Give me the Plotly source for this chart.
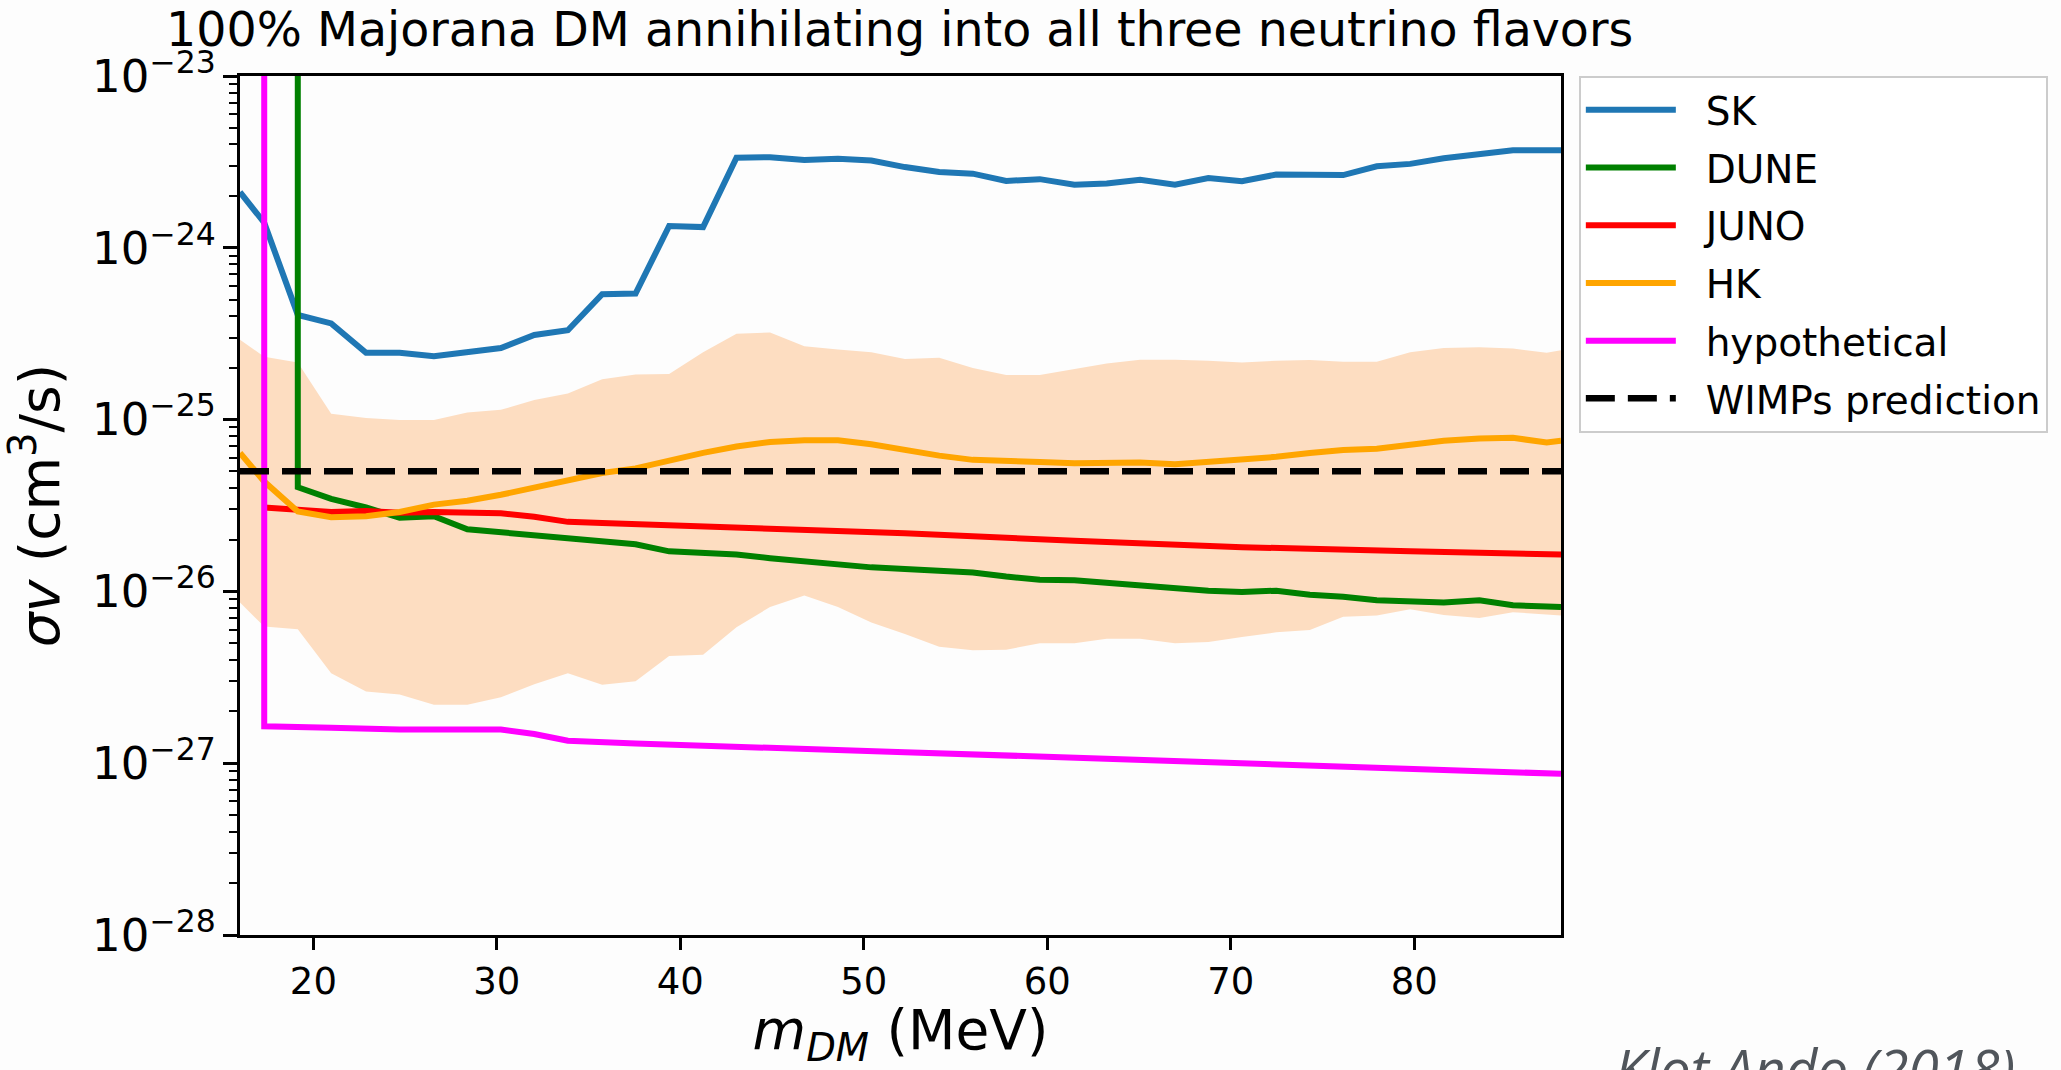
import plotly.graph_objects as go

# ---------------- data ----------------
mass = [16.0, 17.32, 19.15, 20.97, 22.87, 24.70, 26.57, 28.39, 30.22, 32.04,
        33.87, 35.74, 37.56, 39.39, 41.24, 43.06, 44.89, 46.76, 48.59, 50.41,
        52.24, 54.11, 55.94, 57.76, 59.59, 61.48, 63.24, 65.06, 66.96, 68.78,
        70.61, 72.48, 74.31, 76.13, 77.96, 79.78, 81.61, 83.55, 85.38, 87.22, 88.0]

sk = [2.11e-24, 1.40e-24, 4.07e-25, 3.63e-25, 2.45e-25, 2.45e-25, 2.34e-25, 2.45e-25, 2.61e-25, 3.11e-25,
      3.31e-25, 5.37e-25, 5.42e-25, 1.34e-24, 1.32e-24, 3.34e-24, 3.37e-24, 3.24e-24, 3.30e-24, 3.22e-24,
      2.95e-24, 2.76e-24, 2.70e-24, 2.45e-24, 2.51e-24, 2.33e-24, 2.37e-24, 2.49e-24, 2.33e-24, 2.55e-24,
      2.44e-24, 2.67e-24, 2.65e-24, 2.65e-24, 2.98e-24, 3.08e-24, 3.32e-24, 3.51e-24, 3.70e-24, 3.70e-24, 3.70e-24]

dune_mass = [19.15, 19.15, 20.97, 22.87, 24.70, 26.57, 28.39, 30.22, 32.04,
             33.87, 35.74, 37.56, 39.39, 41.24, 43.06, 44.89, 46.76, 48.59, 50.41,
             52.24, 54.11, 55.94, 57.76, 59.59, 61.48, 63.24, 65.06, 66.96, 68.78,
             70.61, 72.48, 74.31, 76.13, 77.96, 79.78, 81.61, 83.55, 85.38, 87.22, 88.0]
dune = [1e-20, 4.04e-26, 3.46e-26, 3.08e-26, 2.68e-26, 2.74e-26, 2.30e-26, 2.21e-26, 2.13e-26,
        2.05e-26, 1.94e-26, 1.88e-26, 1.71e-26, 1.66e-26, 1.64e-26, 1.56e-26, 1.49e-26, 1.45e-26, 1.38e-26,
        1.35e-26, 1.33e-26, 1.29e-26, 1.22e-26, 1.17e-26, 1.16e-26, 1.12e-26, 1.09e-26, 1.05e-26, 1.01e-26,
        9.91e-27, 1.01e-26, 9.55e-27, 9.31e-27, 8.89e-27, 8.71e-27, 8.63e-27, 8.89e-27, 8.30e-27, 8.17e-27, 8.11e-27]

juno_mass = [17.32, 19.15, 20.97, 22.87, 24.70, 26.57, 28.39, 30.22, 32.04, 33.87,
             35.74, 41.24, 52.24, 61.48, 70.61, 79.78, 88.0]
juno = [3.08e-26, 3.01e-26, 2.90e-26, 2.94e-26, 2.87e-26, 2.90e-26, 2.87e-26, 2.85e-26, 2.72e-26, 2.54e-26,
        2.50e-26, 2.39e-26, 2.18e-26, 1.97e-26, 1.81e-26, 1.71e-26, 1.64e-26]

hk = [6.40e-26, 4.36e-26, 2.92e-26, 2.70e-26, 2.74e-26, 2.90e-26, 3.20e-26, 3.37e-26, 3.65e-26, 4.04e-26,
      4.43e-26, 4.89e-26, 5.20e-26, 5.79e-26, 6.40e-26, 6.97e-26, 7.41e-26, 7.59e-26, 7.59e-26, 7.19e-26,
      6.65e-26, 6.17e-26, 5.83e-26, 5.79e-26, 5.66e-26, 5.57e-26, 5.57e-26, 5.62e-26, 5.50e-26, 5.70e-26,
      5.83e-26, 6.07e-26, 6.40e-26, 6.65e-26, 6.76e-26, 7.19e-26, 7.53e-26, 7.76e-26, 7.83e-26, 7.36e-26, 7.53e-26]

hk_upper = [2.92e-25, 2.32e-25, 2.15e-25, 1.08e-25, 1.02e-25, 9.93e-26, 9.93e-26, 1.10e-25, 1.14e-25, 1.30e-25,
            1.42e-25, 1.72e-25, 1.83e-25, 1.84e-25, 2.47e-25, 3.16e-25, 3.21e-25, 2.67e-25, 2.56e-25, 2.47e-25,
            2.25e-25, 2.29e-25, 2.00e-25, 1.82e-25, 1.82e-25, 1.96e-25, 2.12e-25, 2.23e-25, 2.23e-25, 2.20e-25,
            2.15e-25, 2.20e-25, 2.22e-25, 2.17e-25, 2.17e-25, 2.47e-25, 2.61e-25, 2.64e-25, 2.59e-25, 2.45e-25, 2.53e-25]

hk_lower = [8.63e-27, 6.24e-27, 6.03e-27, 3.34e-27, 2.61e-27, 2.51e-27, 2.19e-27, 2.19e-27, 2.42e-27, 2.88e-27,
            3.34e-27, 2.86e-27, 3.00e-27, 4.21e-27, 4.28e-27, 6.19e-27, 8.11e-27, 9.46e-27, 8.11e-27, 6.59e-27,
            5.65e-27, 4.76e-27, 4.55e-27, 4.58e-27, 4.99e-27, 4.99e-27, 5.31e-27, 5.31e-27, 4.99e-27, 5.07e-27,
            5.43e-27, 5.78e-27, 5.96e-27, 7.11e-27, 7.23e-27, 7.87e-27, 7.28e-27, 7.00e-27, 7.57e-27, 7.33e-27, 7.23e-27]

hyp_mass = [17.32, 17.32, 20.97, 24.70, 30.22, 32.04, 33.87, 37.56, 52.24, 70.61, 88.0]
hyp = [1e-20, 1.64e-27, 1.61e-27, 1.57e-27, 1.57e-27, 1.48e-27, 1.35e-27, 1.30e-27, 1.16e-27, 9.95e-28, 8.67e-28]

wimp_mass = [16.0, 88.0]
wimp = [5.0e-26, 5.0e-26]

x_ticks = [20, 30, 40, 50, 60, 70, 80]
legend_names = ["SK", "DUNE", "JUNO", "HK", "hypothetical", "WIMPs prediction"]

# ---------------- figure ----------------
FONT = "DejaVu Sans"
LW = 6
PAD = "\u00a0\u00a0"

fig = go.Figure()

# HK uncertainty band
fig.add_trace(go.Scatter(x=mass, y=hk_lower, mode="lines", line=dict(width=0),
                         showlegend=False, hoverinfo="skip"))
fig.add_trace(go.Scatter(x=mass, y=hk_upper, mode="lines", line=dict(width=0),
                         fill="tonexty", fillcolor="rgba(255,127,14,0.25)",
                         showlegend=False, hoverinfo="skip"))

fig.add_trace(go.Scatter(x=mass, y=sk, mode="lines", name=PAD + legend_names[0], legendgroup="a",
                         line=dict(color="#1f77b4", width=LW)))
fig.add_trace(go.Scatter(x=dune_mass, y=dune, mode="lines", name=PAD + legend_names[1], legendgroup="b",
                         line=dict(color="#008000", width=LW)))
fig.add_trace(go.Scatter(x=juno_mass, y=juno, mode="lines", name=PAD + legend_names[2], legendgroup="c",
                         line=dict(color="#ff0000", width=LW)))
fig.add_trace(go.Scatter(x=mass, y=hk, mode="lines", name=PAD + legend_names[3], legendgroup="d",
                         line=dict(color="#ffa500", width=LW)))
fig.add_trace(go.Scatter(x=hyp_mass, y=hyp, mode="lines", name=PAD + legend_names[4], legendgroup="e",
                         line=dict(color="#ff00ff", width=LW)))
fig.add_trace(go.Scatter(x=wimp_mass, y=wimp, mode="lines", name=PAD + legend_names[5], legendgroup="f",
                         line=dict(color="black", width=6.5, dash="29px,13px")))

fig.update_layout(
    width=2061, height=1070,
    margin=dict(l=240, r=500, t=76, b=135),
    paper_bgcolor="#fdfdfd", plot_bgcolor="#fdfdfd",
    font=dict(family=FONT, color="black"),
    title=dict(text="100% Majorana DM annihilating into all three neutrino flavors",
               font=dict(family=FONT, size=47.5, color="black"),
               x=0.4365, xanchor="center", y=0.973, yanchor="middle", yref="container"),
    legend=dict(x=1.0135, y=1.0, xanchor="left", yanchor="top",
                font=dict(family=FONT, size=39, color="black"),
                bgcolor="white", bordercolor="#cccccc", borderwidth=2,
                itemwidth=90, tracegroupgap=4),
    showlegend=True,
)

fig.update_xaxes(
    range=[16, 88], tickvals=x_ticks, ticktext=[str(v) for v in x_ticks],
    showline=True, linecolor="black", linewidth=3, mirror=True,
    ticks="outside", ticklen=12, tickwidth=2.5, tickcolor="black",
    tickfont=dict(family=FONT, size=37, color="black"),
    showgrid=False, zeroline=False,
    title=dict(text="<i>m</i><sub><i>DM</i></sub> (MeV)",
               font=dict(family=FONT, size=55, color="black"), standoff=15),
)

fig.update_yaxes(
    type="log", range=[-28, -23], dtick=1, exponentformat="power", showexponent="all",
    showline=True, linecolor="black", linewidth=3, mirror=True,
    ticks="outside", ticklen=14, tickwidth=2.5, tickcolor="black",
    minor=dict(ticks="outside", ticklen=8, tickwidth=2, tickcolor="black", showgrid=False),
    tickfont=dict(family=FONT, size=36, color="black"),
    showgrid=False, zeroline=False,
    title=dict(text="<i>σv</i> (cm<sup>3</sup>/s)",
               font=dict(family=FONT, size=55, color="black"), standoff=24),
)

fig.add_annotation(text="<i>Klot Ando (2018)</i>", xref="paper", yref="paper",
                   x=1.0395, y=-0.108, xanchor="left", yanchor="top", showarrow=False,
                   font=dict(family="Open Sans", size=55, color="#50555b"))

fig.write_html("out.html")
